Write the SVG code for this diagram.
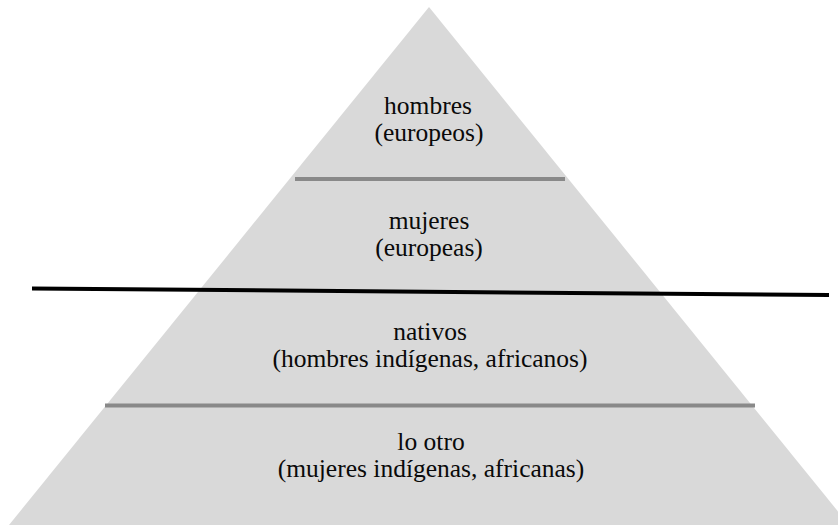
<svg xmlns="http://www.w3.org/2000/svg" width="838" height="525" viewBox="0 0 838 525">
<style>
text{font-family:'Liberation Serif','Times New Roman','DejaVu Serif',serif;font-size:25.5px;fill:#0a0a0a;text-anchor:middle}
.sep{stroke:#898989;stroke-width:4;fill:none}
.div{stroke:#000;stroke-width:4;fill:none}
</style>
<rect width="838" height="525" fill="#fff"/>
<g id="pyramid">
<polygon points="429,7 9,525 849,525" fill="#d9d9d9"/>
</g>
<g id="connectors">
<line class="sep" x1="295" y1="179" x2="565" y2="179"/>
<line class="sep" x1="105" y1="405.5" x2="755" y2="405.5"/>
<line class="div" x1="32" y1="288.5" x2="829" y2="295"/>
</g>
<g id="hombres">
<text x="428" y="114">hombres</text>
<text x="429" y="141">(europeos)</text>
</g>
<g id="mujeres">
<text x="429" y="229">mujeres</text>
<text x="429" y="256">(europeas)</text>
</g>
<g id="nativos">
<text x="430" y="340">nativos</text>
<text x="430" y="367">(hombres indígenas, africanos)</text>
</g>
<g id="lootro">
<text x="431" y="450">lo otro</text>
<text x="431" y="477">(mujeres indígenas, africanas)</text>
</g>
</svg>
